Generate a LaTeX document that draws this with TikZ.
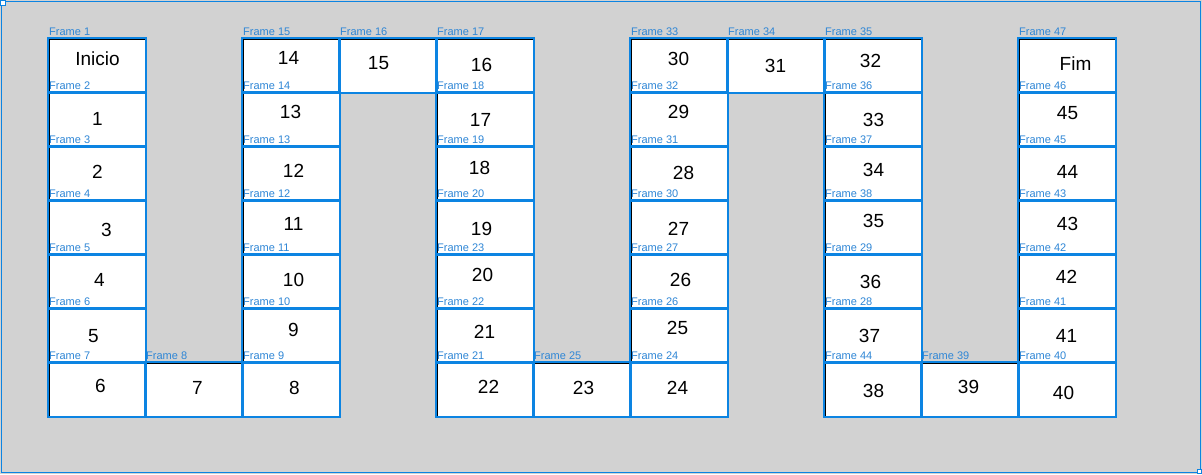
\documentclass[tikz,border=0pt]{standalone}
\usepackage{fontspec}
\setmainfont{Liberation Sans}
\usetikzlibrary{positioning}

\definecolor{boardgray}{HTML}{D2D2D2}
\definecolor{selblue}{HTML}{0C84E2}
\definecolor{framelbl}{HTML}{2E86D6}

% frame / column / row / text / dx / dy
\def\boardcells{1/0/0/Inicio/0/-7, 2/0/1/1/0/-1, 3/0/2/2/0/-2, 4/0/3/3/9/2,
  5/0/4/4/2/-2, 6/0/5/5/-4/0, 7/0/6/6/3/-4, 8/1/6/7/3/-2,
  15/2/0/14/-3/-8, 14/2/1/13/-1/-8, 13/2/2/12/2/-3, 12/2/3/11/2/-4,
  11/2/4/10/2/-2, 10/2/5/9/2/-6, 9/2/6/8/3/-2, 16/3/0/15/-10/-3,
  17/4/0/16/-4/-1, 18/4/1/17/-5/0, 19/4/2/18/-6/-6, 20/4/3/19/-4/1,
  23/4/4/20/-3/-7, 22/4/5/21/-1/-4, 21/4/6/22/3/-3, 25/5/6/23/1/-2,
  33/6/0/30/-1/-7, 32/6/1/29/-1/-8, 31/6/2/28/4/-1, 30/6/3/27/-1/1,
  27/6/4/26/1/-2, 26/6/5/25/-2/-8, 24/6/6/24/-2/-2, 34/7/0/31/-1/0,
  35/8/0/32/-3/-5, 36/8/1/33/0/0, 37/8/2/34/0/-4, 38/8/3/35/0/-7,
  29/8/4/36/-3/0, 28/8/5/37/-4/0, 44/8/6/38/0/1, 39/9/6/39/-2/-3,
  47/10/0/Fim/8/-2, 46/10/1/45/0/-7, 45/10/2/44/0/-2, 43/10/3/43/0/-4,
  42/10/4/42/-1/-5, 41/10/5/41/-1/0, 40/10/6/40/-4/3}

\tikzset{
  cell/.style={draw=black, line width=1.2pt, fill=white, minimum width=97pt,
    minimum height=54pt, inner sep=0pt, outer sep=0pt},
  selbox/.style={draw=selblue, line width=2pt},
  number/.style={font=\fontsize{19}{19}\selectfont, inner sep=0pt},
  frame label/.style={font=\fontsize{11}{11}\selectfont, text=framelbl,
    inner sep=0pt, anchor=south west}
}

\begin{document}
\begin{tikzpicture}[x=1pt, y=-1pt]
  \useasboundingbox (0,0) rectangle (1202,474);
  \fill[boardgray] (0,0) rectangle (1202,474);
  \draw[selblue, line width=1.3pt] (1.5,1.5) rectangle (1200.5,472.5);
  \draw[selblue, fill=white, line width=0.6pt] (0.3,0.3) rectangle (5,5);
  \draw[selblue, fill=white, line width=0.6pt] (1197,469) rectangle (1201.7,473.7);

  % squares of the board
  \foreach \f/\c/\r/\t/\dx/\dy in \boardcells
    \node[cell] (f\f) at ({97.5+97*\c}, {66+54*\r}) {};

  % selection outlines, numbers and frame names
  \foreach \f/\c/\r/\t/\dx/\dy in \boardcells {
    \draw[selbox] ([shift={(-0.6,-0.6)}]f\f.north west) rectangle ([shift={(0.3,0.3)}]f\f.south east);
    \node[number] (n\f) at ([shift={(\dx,\dy)}]f\f.center) {\t};
    \node[frame label] (l\f) at ([yshift=3.5pt]f\f.north west) {Frame \f};
  }
\end{tikzpicture}
\end{document}
